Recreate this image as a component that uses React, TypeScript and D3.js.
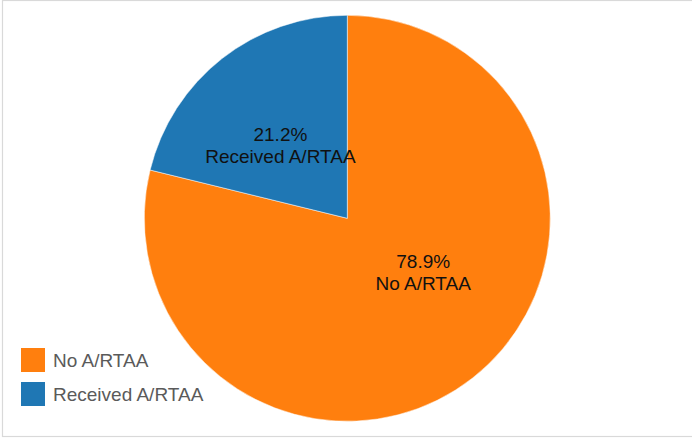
import { useEffect, useRef } from 'react';
import { select, pie, arc, scaleOrdinal } from 'd3';

// Chart data
const categories = ['No A/RTAA', 'Received A/RTAA'];
const shares = [78.9, 21.2];
const shareLabels = ['78.9%', '21.2%'];
const sliceColors = ['#ff7f0e', '#1f77b4'];

// small nudges so the labels sit where the original renderer put them
const labelNudge: [number, number][] = [
  [17, -21],
  [-8, 2],
];

const WIDTH = 692;
const HEIGHT = 438;

export default function App() {
  const svgRef = useRef<SVGSVGElement>(null);

  useEffect(() => {
    if (!svgRef.current) return;
    const svg = select(svgRef.current);
    svg.selectAll('*').remove();

    const cx = 347.3;
    const cy = 218.3;
    const radius = 203;
    const font = 'Arial, "Liberation Sans", sans-serif';

    // Frame
    svg
      .append('rect')
      .attr('x', 2.5)
      .attr('y', 0.5)
      .attr('width', WIDTH + 10)
      .attr('height', HEIGHT - 2)
      .attr('fill', '#fff')
      .attr('stroke', '#d9d9d9')
      .attr('stroke-width', 1.2);

    const color = scaleOrdinal<string, string>().domain(categories).range(sliceColors);

    const rows = categories.map((c, i) => ({ cat: c, value: shares[i], label: shareLabels[i], i }));

    const pieGen = pie<(typeof rows)[number]>()
      .sort(null)
      .value((d) => d.value);
    const arcs = pieGen(rows);

    const arcGen = arc<any>().innerRadius(0).outerRadius(radius);
    const labelArc = arc<any>().innerRadius(radius * 0.47).outerRadius(radius * 0.47);

    const g = svg.append('g').attr('transform', `translate(${cx},${cy})`);

    g.selectAll('path.slice')
      .data(arcs)
      .enter()
      .append('path')
      .attr('class', 'slice')
      .attr('d', arcGen)
      .attr('fill', (d) => color(d.data.cat))
      .attr('stroke', '#fff')
      .attr('stroke-width', 0.5);

    const labels = g
      .selectAll('text.lbl')
      .data(arcs)
      .enter()
      .append('text')
      .attr('class', 'lbl')
      .attr('transform', (d) => {
        const [x, y] = labelArc.centroid(d);
        const [nx, ny] = labelNudge[d.data.i];
        return `translate(${x + nx},${y + ny})`;
      })
      .attr('text-anchor', 'middle')
      .attr('font-family', font)
      .attr('font-size', 19)
      .attr('fill', '#111');

    labels.append('tspan').attr('x', 0).attr('y', -4.5).text((d) => d.data.label);
    labels.append('tspan').attr('x', 0).attr('y', 17.5).text((d) => d.data.cat);

    // Legend
    const legend = svg.append('g').attr('transform', 'translate(21,348)');
    const items = legend
      .selectAll('g.item')
      .data(categories)
      .enter()
      .append('g')
      .attr('class', 'item')
      .attr('transform', (_, i) => `translate(0,${i * 34})`);

    items
      .append('rect')
      .attr('width', 24)
      .attr('height', 24)
      .attr('fill', (d) => color(d));

    items
      .append('text')
      .attr('x', 32)
      .attr('y', 12)
      .attr('dy', '0.35em')
      .attr('font-family', font)
      .attr('font-size', 19)
      .attr('fill', '#5a5a5a')
      .text((d) => d);
  }, []);

  return (
    <div style={{ position: 'fixed', left: 0, top: 0 }}>
      <svg ref={svgRef} width={WIDTH} height={HEIGHT} style={{ display: 'block' }} />
    </div>
  );
}
